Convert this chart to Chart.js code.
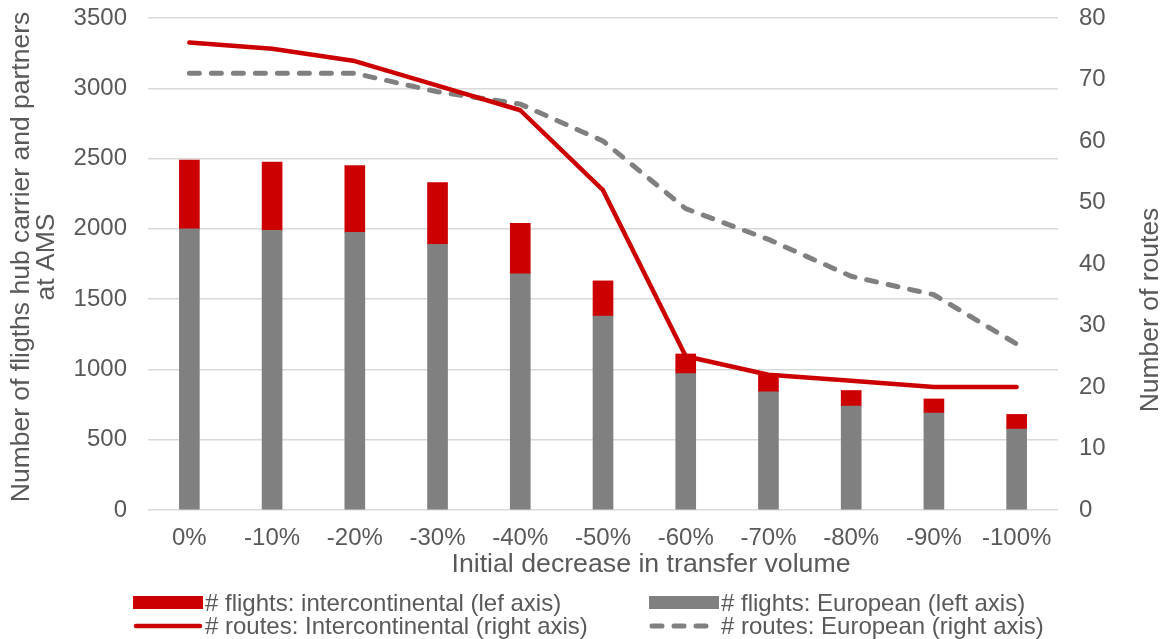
<!DOCTYPE html>
<html>
<head>
<meta charset="utf-8">
<script src="https://cdn.jsdelivr.net/npm/chart.js@4.4.1/dist/chart.umd.min.js"></script>
<style>
  html, body { margin: 0; padding: 0; background: #fff; }
  #wrap { position: relative; width: 1164px; height: 639px; }
</style>
</head>
<body>
<div id="wrap"><canvas id="c" width="1164" height="639"></canvas></div>
<script>
// Scenario categories: initial decrease in transfer volume
const categories = ['0%', '-10%', '-20%', '-30%', '-40%', '-50%', '-60%', '-70%', '-80%', '-90%', '-100%'];

// Flights of hub carrier and partners at AMS (left axis)
const flightsEuropean = [2000, 1990, 1975, 1890, 1680, 1380, 970, 840, 740, 690, 575];
const flightsIntercontinental = [490, 485, 475, 440, 360, 250, 140, 130, 110, 100, 105];

// Number of routes (right axis)
const routesIntercontinental = [76, 75, 73, 69, 65, 52, 25, 22, 21, 20, 20];
const routesEuropean = [71, 71, 71, 68, 66, 60, 49, 44, 38, 35, 27];

// Axis tick values
const leftTicks = [0, 500, 1000, 1500, 2000, 2500, 3000, 3500];
const rightTicks = [0, 10, 20, 30, 40, 50, 60, 70, 80];

// Axis titles
const leftTitle = ['Number of fligths hub carrier and partners', 'at AMS'];
const rightTitle = 'Number of routes';
const xTitle = 'Initial decrease in transfer volume';

const RED = '#cc0000';
const GREY = '#808080';
const TEXT = '#595959';
const FONT = '"Liberation Sans", Arial, sans-serif';

// Axis titles: vertical ones read bottom-to-top
const axisTitlePlugin = {
  id: 'axisTitles',
  afterDraw(chart) {
    const ctx = chart.ctx;
    ctx.save();
    ctx.fillStyle = TEXT;
    ctx.textAlign = 'center';
    ctx.textBaseline = 'middle';
    ctx.font = '26.7px ' + FONT;
    ctx.fillText(xTitle, 651, 565);
    ctx.font = '26.5px ' + FONT;
    const lx = [22, 47];
    leftTitle.forEach((line, i) => {
      ctx.save();
      ctx.translate(lx[i], 257);
      ctx.rotate(-Math.PI / 2);
      ctx.fillText(line, 0, 0);
      ctx.restore();
    });
    ctx.translate(1151, 310);
    ctx.rotate(-Math.PI / 2);
    ctx.fillText(rightTitle, 0, 0);
    ctx.restore();
  }
};

// Legend drawn in two columns below the x-axis title
const legendPlugin = {
  id: 'twoColLegend',
  afterDraw(chart) {
    const ctx = chart.ctx;
    const items = [
      { text: '# flights: intercontinental (lef axis)', type: 'box', color: RED, x: 133, y: 603 },
      { text: '# flights: European (left axis)', type: 'box', color: GREY, x: 649, y: 603 },
      { text: '# routes: Intercontinental (right axis)', type: 'line', color: RED, x: 133, y: 626 },
      { text: '# routes: European (right axis)', type: 'dash', color: GREY, x: 649, y: 626 }
    ];
    ctx.save();
    ctx.font = '24px ' + FONT;
    ctx.textBaseline = 'middle';
    ctx.textAlign = 'left';
    items.forEach(it => {
      const w = 70;
      if (it.type === 'box') {
        ctx.fillStyle = it.color;
        ctx.fillRect(it.x, it.y - 7, w, 13);
      } else {
        ctx.strokeStyle = it.color;
        ctx.lineCap = 'round';
        if (it.type === 'line') {
          ctx.lineWidth = 4.5;
          ctx.setLineDash([]);
        } else {
          ctx.lineWidth = 5;
          ctx.setLineDash([10, 12]);
        }
        ctx.beginPath();
        ctx.moveTo(it.x + 3, it.y);
        ctx.lineTo(it.x + w - 3, it.y);
        ctx.stroke();
        ctx.setLineDash([]);
      }
      ctx.fillStyle = TEXT;
      ctx.fillText(it.text, it.x + w + 2, it.y + 1);
    });
    ctx.restore();
  }
};

// Fixed axis box sizes, without extra label padding at the ends
function fixVertical(width) {
  return scale => {
    scale.width = width;
    scale.paddingTop = 0;
    scale.paddingBottom = 0;
  };
}

new Chart(document.getElementById('c'), {
  type: 'bar',
  data: {
    labels: categories,
    datasets: [
      {
        type: 'line',
        label: '# routes: Intercontinental (right axis)',
        data: routesIntercontinental,
        yAxisID: 'y1',
        borderColor: RED,
        backgroundColor: RED,
        borderWidth: 4.5,
        pointRadius: 0,
        borderCapStyle: 'round',
        borderJoinStyle: 'round',
        tension: 0,
        order: 0
      },
      {
        type: 'line',
        label: '# routes: European (right axis)',
        data: routesEuropean,
        yAxisID: 'y1',
        borderColor: GREY,
        backgroundColor: GREY,
        borderWidth: 5,
        borderDash: [10, 12],
        borderCapStyle: 'round',
        borderJoinStyle: 'round',
        pointRadius: 0,
        tension: 0,
        order: 1
      },
      {
        label: '# flights: European (left axis)',
        data: flightsEuropean,
        yAxisID: 'y',
        backgroundColor: GREY,
        barThickness: 20,
        stack: 'flights',
        order: 2
      },
      {
        label: '# flights: intercontinental (lef axis)',
        data: flightsIntercontinental,
        yAxisID: 'y',
        backgroundColor: RED,
        barThickness: 20,
        stack: 'flights',
        order: 2
      }
    ]
  },
  options: {
    responsive: false,
    animation: false,
    layout: { padding: { top: 18, bottom: 59, left: 0, right: 0 } },
    plugins: {
      legend: { display: false },
      tooltip: { enabled: false }
    },
    scales: {
      x: {
        stacked: true,
        grid: { display: false, drawTicks: false },
        border: { display: false },
        ticks: { color: TEXT, font: { family: FONT, size: 24 }, padding: 14, maxRotation: 0 },
        afterFit(scale) {
          scale.height = 70;
          scale.paddingLeft = 0;
          scale.paddingRight = 0;
        }
      },
      y: {
        position: 'left',
        stacked: true,
        min: 0,
        max: 3500,
        afterBuildTicks(scale) { scale.ticks = leftTicks.map(v => ({ value: v })); },
        grid: { color: '#d9d9d9', lineWidth: 1.5, drawTicks: false },
        border: { display: false },
        ticks: {
          color: TEXT,
          font: { family: FONT, size: 24 },
          padding: 21,
          callback: v => String(v)
        },
        afterFit: fixVertical(148)
      },
      y1: {
        position: 'right',
        stacked: false,
        min: 0,
        max: 80,
        afterBuildTicks(scale) { scale.ticks = rightTicks.map(v => ({ value: v })); },
        grid: { display: false, drawTicks: false },
        border: { display: false },
        ticks: {
          color: TEXT,
          font: { family: FONT, size: 24 },
          padding: 21,
          callback: v => String(v)
        },
        afterFit: fixVertical(106)
      }
    }
  },
  plugins: [axisTitlePlugin, legendPlugin]
});
</script>
</body>
</html>
